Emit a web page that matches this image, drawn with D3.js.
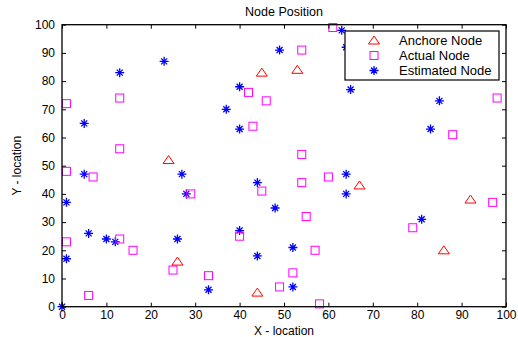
<!DOCTYPE html>
<html>
<head>
<meta charset="utf-8">
<script src="https://cdn.jsdelivr.net/npm/d3@7"></script>
<style>
  body { margin: 0; background: #fff; }
  svg { display: block; }
</style>
</head>
<body>
<div id="chart"></div>
<script>
// data
const anchorNodes = [
  [24, 52], [26, 16], [44, 5], [45, 83], [53, 84], [67, 43], [86, 20], [92, 38]
];
const actualNodes = [
  [1, 72], [13, 74], [13, 56], [42, 76], [43, 64], [1, 48], [61, 99], [54, 91],
  [46, 73], [54, 54], [98, 74], [88, 61], [7, 46], [29, 40], [1, 23], [13, 24],
  [16, 20], [6, 4], [25, 13], [33, 11], [40, 25], [45, 41], [54, 44], [60, 46],
  [55, 32], [57, 20], [52, 12], [49, 7], [58, 1], [97, 37], [79, 28]
];
const estimatedNodes = [
  [5, 65], [13, 83], [23, 87], [37, 70], [40, 78], [40, 63], [49, 91], [63, 98],
  [64, 92], [65, 77], [85, 73], [83, 63], [27, 47], [28, 40], [44, 44], [48, 35],
  [64, 47], [64, 40], [40, 27], [44, 18], [52, 21], [52, 7], [33, 6], [5, 47],
  [1, 37], [6, 26], [10, 24], [12, 23], [1, 17], [0, 0], [26, 24], [81, 31]
];
const xTicks = d3.range(0, 101, 10);
const yTicks = d3.range(0, 101, 10);
const legendLabels = ["Anchore Node", "Actual Node", "Estimated Node"];

const W = 518, H = 337;
const font = "'Liberation Sans', Arial, sans-serif";

const x = d3.scaleLinear().domain([0, 100]).range([62, 506]);
const y = d3.scaleLinear().domain([0, 100]).range([306.7, 24.7]);

const svg = d3.select("#chart").append("svg")
  .attr("width", W)
  .attr("height", H)
  .style("font-family", font);

// markers
const starPath = () => {
  const r = 4.5, d = 3;
  return `M${-r},0L${r},0M0,${-r}L0,${r}M${-d},${-d}L${d},${d}M${-d},${d}L${d},${-d}`;
}
const triPath = () => "M0,-4.5L5.5,3.5L-5.5,3.5Z";

const plot = svg.append("g");

plot.selectAll(".est")
  .data(estimatedNodes)
  .enter()
  .append("path")
  .attr("class", "est")
  .attr("d", starPath())
  .attr("transform", d => `translate(${x(d[0])},${y(d[1])})`)
  .attr("stroke", "#0000ff")
  .attr("stroke-width", 1.3)
  .attr("fill", "none");

plot.selectAll(".act")
  .data(actualNodes)
  .enter()
  .append("rect")
  .attr("class", "act")
  .attr("x", d => x(d[0]) - 4)
  .attr("y", d => y(d[1]) - 4)
  .attr("width", 8)
  .attr("height", 8)
  .attr("fill", "none")
  .attr("stroke", "#ff00ff")
  .attr("stroke-width", 1);

plot.selectAll(".anc")
  .data(anchorNodes)
  .enter()
  .append("path")
  .attr("class", "anc")
  .attr("d", triPath())
  .attr("transform", d => `translate(${x(d[0])},${y(d[1])})`)
  .attr("fill", "none")
  .attr("stroke", "#ff0000")
  .attr("stroke-width", 1);

// axes, ticks pointing inward like matlab
const tickLen = 4;
const styleAxis = g => {
  g.selectAll("path").remove();
  g.selectAll("line").attr("stroke", "#000");
  g.selectAll("text").attr("fill", "#000").style("font-size", "12px").style("font-family", font);
}

svg.append("g")
  .attr("transform", `translate(0,${y(0)})`)
  .call(d3.axisBottom(x).tickValues(xTicks).tickSizeInner(-tickLen).tickSizeOuter(0).tickPadding(4))
  .call(styleAxis);

svg.append("g")
  .attr("transform", `translate(0,${y(100)})`)
  .call(d3.axisTop(x).tickValues(xTicks).tickSizeInner(-tickLen).tickSizeOuter(0).tickFormat(""))
  .call(styleAxis);

svg.append("g")
  .attr("transform", `translate(${x(0)},0)`)
  .call(d3.axisLeft(y).tickValues(yTicks).tickSizeInner(-tickLen).tickSizeOuter(0).tickPadding(7))
  .call(styleAxis);

svg.append("g")
  .attr("transform", `translate(${x(100)},0)`)
  .call(d3.axisRight(y).tickValues(yTicks).tickSizeInner(-tickLen).tickSizeOuter(0).tickFormat(""))
  .call(styleAxis);

// box
svg.append("rect")
  .attr("x", x(0))
  .attr("y", y(100))
  .attr("width", x(100) - x(0))
  .attr("height", y(0) - y(100))
  .attr("fill", "none")
  .attr("stroke", "#000")
  .attr("stroke-width", 1.3);

// titles
svg.append("text")
  .attr("x", (x(0) + x(100)) / 2)
  .attr("y", 16)
  .attr("text-anchor", "middle")
  .style("font-size", "12.5px")
  .text("Node Position");

svg.append("text")
  .attr("x", (x(0) + x(100)) / 2)
  .attr("y", 334.5)
  .attr("text-anchor", "middle")
  .style("font-size", "12px")
  .text("X - location");

svg.append("text")
  .attr("transform", `translate(21,${(y(0) + y(100)) / 2}) rotate(-90)`)
  .attr("text-anchor", "middle")
  .style("font-size", "12px")
  .text("Y - location");

// legend
const legend = svg.append("g")
  .attr("class", "legend")
  .attr("transform", "translate(345,31)");

legend.append("rect")
  .attr("width", 154)
  .attr("height", 49)
  .attr("fill", "#fff")
  .attr("stroke", "#000")
  .attr("stroke-width", 1.2);

const rowY = [9.5, 24.5, 39.5];
legend.append("path")
  .attr("d", triPath())
  .attr("transform", `translate(29,${rowY[0]})`)
  .attr("fill", "none")
  .attr("stroke", "#ff0000");
legend.append("rect")
  .attr("x", 25).attr("y", rowY[1] - 4)
  .attr("width", 8).attr("height", 8)
  .attr("fill", "none")
  .attr("stroke", "#ff00ff");
legend.append("path")
  .attr("d", starPath())
  .attr("transform", `translate(29,${rowY[2]})`)
  .attr("fill", "none")
  .attr("stroke", "#0000ff")
  .attr("stroke-width", 1.3);

legend.selectAll("text.lbl")
  .data(legendLabels)
  .enter()
  .append("text")
  .attr("class", "lbl")
  .attr("x", 54)
  .attr("y", (d, i) => rowY[i])
  .attr("dy", "0.35em")
  .style("font-size", "13px")
  .text(d => d);
</script>
</body>
</html>
